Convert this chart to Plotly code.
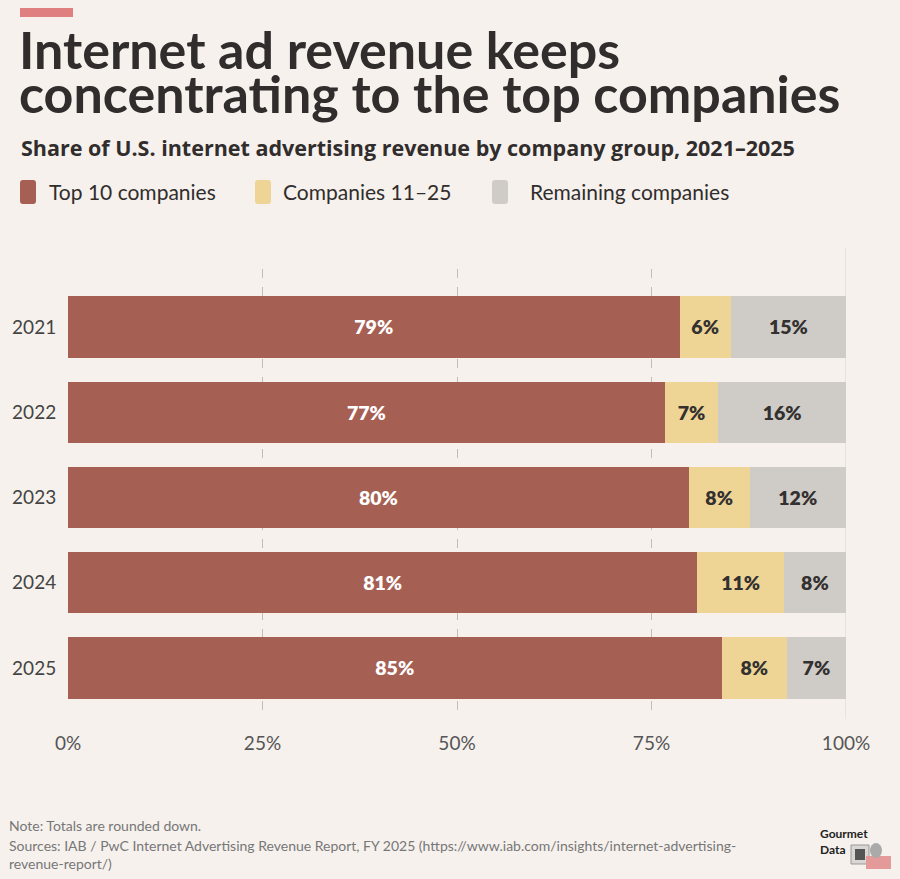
import plotly.graph_objects as go

years = ["2021", "2022", "2023", "2024", "2025"]
top10 = [78.6, 76.7, 79.8, 80.9, 84.0]
mid = [6.6, 6.9, 7.8, 11.1, 8.4]
rest = [14.8, 16.4, 12.4, 8.0, 7.6]
top10_lbl = ["79%", "77%", "80%", "81%", "85%"]
mid_lbl = ["6%", "7%", "8%", "11%", "8%"]
rest_lbl = ["15%", "16%", "12%", "8%", "7%"]
series_names = ["Top 10 companies", "Companies 11–25", "Remaining companies"]
x_ticks = [0, 25, 50, 75, 100]
x_ticktext = ["0%", "25%", "50%", "75%", "100%"]
title_lines = ["Internet ad revenue keeps", "concentrating to the top companies"]
subtitle = "Share of U.S. internet advertising revenue by company group, 2021–2025"

BG = "#f6f1ed"
RED = "#a65f53"
YEL = "#eed495"
GRY = "#cfcbc6"
DARK = "#333030"
FONT = "Lato"

W, H = 900, 879
L, R, T, B = 68, 846, 269, 719

def px(x):
    return (x - L) / (R - L)

def py(y):
    return (B - y) / (B - T)

fig = go.Figure()
for vals, lbls, color, tcol, name in [
    (top10, top10_lbl, RED, "white", series_names[0]),
    (mid, mid_lbl, YEL, DARK, series_names[1]),
    (rest, rest_lbl, GRY, DARK, series_names[2]),
]:
    fig.add_trace(go.Bar(
        x=vals, y=years, orientation="h", name=name,
        marker=dict(color=color, line=dict(width=0)),
        text=lbls, textposition="inside", insidetextanchor="middle",
        textfont=dict(family=FONT, size=19.5, color=tcol, weight=800),
        textangle=0, cliponaxis=False, hoverinfo="skip",
    ))

fig.update_layout(
    width=W, height=H, barmode="stack", bargap=0.28,
    paper_bgcolor=BG, plot_bgcolor=BG, showlegend=False,
    margin=dict(l=L, r=W - R, t=T, b=H - B, autoexpand=False),
    font=dict(family=FONT, color=DARK),
    uniformtext=dict(minsize=10, mode="show"),
)
fig.update_xaxes(
    range=[0, 100], tickvals=x_ticks, ticktext=x_ticktext, automargin=False,
    showgrid=True, gridcolor="#c2bdb8", griddash="dash", gridwidth=1.2,
    zeroline=False, showline=False, ticks="outside", ticklen=7, tickcolor=BG,
    tickfont=dict(family=FONT, size=19, color="#555"),
)
fig.update_yaxes(
    type="category", range=[4.6, -0.68], showgrid=False, zeroline=False, automargin=False,
    showline=False, ticks="outside", ticklen=7, tickcolor=BG,
    tickfont=dict(family=FONT, size=19, color="#444"),
)

# 100% light solid guide
fig.add_shape(type="line", xref="x", yref="paper", x0=100, x1=100,
              y0=py(719), y1=py(248), line=dict(color="#e0dbd6", width=1.2), layer="below")

# accent bar
fig.add_shape(type="rect", xref="paper", yref="paper", x0=px(20), x1=px(73),
              y0=py(17), y1=py(8), fillcolor="#e07f7f", line=dict(width=0))

ann = []
def note(text, x, y, size, color="#302d2c", xanchor="left", yanchor="middle", align="left", family=FONT):
    ann.append(dict(text=text, x=px(x), y=py(y), xref="paper", yref="paper",
                    xanchor=xanchor, yanchor=yanchor, align=align, showarrow=False,
                    font=dict(family=family, size=size, color=color)))

# two-line title: small base size sets the tight line spacing, spans set glyph size
big = "<span style='font-size:52px'><b>{}</b></span>"
note(big.format(title_lines[0]) + "<br>" + big.format(title_lines[1]), 17, 71, 34)
note("<b>" + subtitle + "</b>", 19, 148, 21.5, family="Open Sans")

legend_pos = [(20, 47), (255, 281), (492, 528)]
for (sx, tx), col, name in zip(legend_pos, [RED, YEL, GRY], series_names):
    x0, x1, y0, y1 = px(sx), px(sx + 16), py(204), py(180)
    rx, ry = 3 / (R - L), 3 / (B - T)
    path = (f"M {x0+rx},{y0} L {x1-rx},{y0} Q {x1},{y0} {x1},{y0+ry} L {x1},{y1-ry} "
            f"Q {x1},{y1} {x1-rx},{y1} L {x0+rx},{y1} Q {x0},{y1} {x0},{y1-ry} "
            f"L {x0},{y0+ry} Q {x0},{y0} {x0+rx},{y0} Z")
    fig.add_shape(type="path", xref="paper", yref="paper", path=path,
                  fillcolor=col, line=dict(width=0))
    note(name, tx, 191, 21)

note("Note: Totals are rounded down.", 7, 825, 14, color="#777")
note("Sources: IAB / PwC Internet Advertising Revenue Report, FY 2025 (https://www.iab.com/insights/internet-advertising-<br>revenue-report/)",
     7, 835, 14, color="#777", yanchor="top")
note("<b>Gourmet<br>Data</b>", 818, 824, 12, color="#222", yanchor="top")

# tiny logo illustration
fig.add_shape(type="rect", xref="paper", yref="paper", x0=px(851), x1=px(869),
              y0=py(864), y1=py(845), fillcolor="#d9d6d3", line=dict(color="#999", width=1))
fig.add_shape(type="rect", xref="paper", yref="paper", x0=px(855), x1=px(865),
              y0=py(860), y1=py(849), fillcolor="#555", line=dict(width=0))
fig.add_shape(type="rect", xref="paper", yref="paper", x0=px(866), x1=px(891),
              y0=py(869), y1=py(856), fillcolor="#e59a9a", line=dict(width=0))
fig.add_shape(type="circle", xref="paper", yref="paper", x0=px(870), x1=px(882),
              y0=py(858), y1=py(843), fillcolor="#aaa", line=dict(width=0))

fig.update_layout(annotations=ann)
fig.write_html("out.html", config={"displayModeBar": False},
               post_script="document.body.style.margin='0';document.body.style.overflow='hidden';")
